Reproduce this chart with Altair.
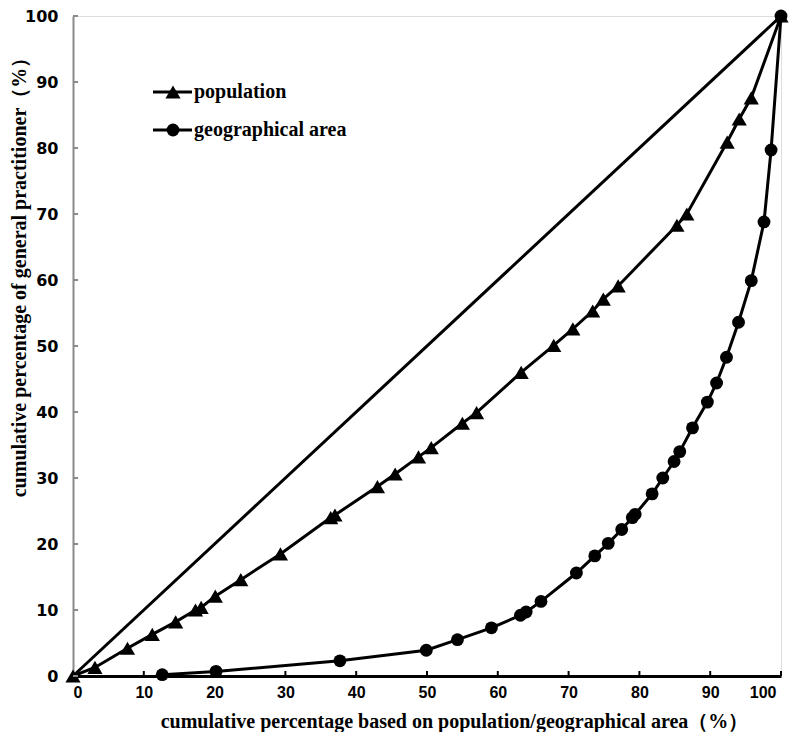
import altair as alt
import pandas as pd

# cumulative percentage of population (x) vs general practitioners (y)
pop_x = [0, 3.1, 7.7, 11.2, 14.5, 17.3, 18.1, 20.1, 23.7, 29.3, 36.4, 37.0, 43.0, 45.5,
         48.8, 50.6, 55.0, 57.0, 63.3, 67.9, 70.6, 73.4, 74.9, 77.0, 85.3, 86.7, 92.4,
         94.1, 95.8, 100]
pop_y = [0, 1.3, 4.2, 6.3, 8.2, 10.0, 10.4, 12.1, 14.6, 18.5, 24.0, 24.4, 28.7, 30.6,
         33.2, 34.6, 38.3, 39.9, 46.0, 50.1, 52.6, 55.3, 57.1, 59.1, 68.3, 70.0, 80.9,
         84.4, 87.6, 100]

# cumulative percentage of geographical area (x) vs general practitioners (y)
geo_x = [12.6, 20.2, 37.7, 49.9, 54.3, 59.1, 63.2, 64.0, 66.1, 71.1, 73.7, 75.6, 77.5,
         79.0, 79.4, 81.8, 83.3, 84.9, 85.7, 87.5, 89.6, 90.9, 92.3, 94.0, 95.8, 97.6,
         98.6, 100]
geo_y = [0.2, 0.7, 2.3, 3.9, 5.5, 7.3, 9.2, 9.7, 11.3, 15.6, 18.2, 20.1, 22.2, 24.0,
         24.5, 27.6, 30.0, 32.5, 34.0, 37.6, 41.5, 44.4, 48.3, 53.6, 59.9, 68.8, 79.7,
         100]

# line of equality
eq_x = [0, 100]
eq_y = [0, 100]

series_names = ["population", "geographical area"]
tick_values = [0, 10, 20, 30, 40, 50, 60, 70, 80, 90, 100]

W, H = 708, 660

df = pd.concat([
    pd.DataFrame({"x": pop_x, "y": pop_y, "series": series_names[0], "order": range(len(pop_x))}),
    pd.DataFrame({"x": geo_x, "y": geo_y, "series": series_names[1], "order": range(len(geo_x))}),
])
df_eq = pd.DataFrame({"x": eq_x, "y": eq_y})
df_ticks = pd.DataFrame({"v": tick_values})

xscale = alt.Scale(domain=[0, 100], nice=False, zero=False)
yscale = alt.Scale(domain=[0, 100], nice=False, zero=False)

title_font = "Liberation Serif"
SERIF_SIZE = 20
TRI_SIZE = 230
CIR_SIZE = 165

x_axis = alt.Axis(
    values=tick_values, ticks=False, grid=False,
    domainColor="black", domainWidth=3,
    labelFont="Liberation Sans", labelFontSize=16, labelFontWeight="bold", labelColor="black",
    labelPadding=8,
    labelOffset=alt.expr("datum.value == 100 ? -5 : 0"),
    title="cumulative percentage based on population/geographical area（%）",
    titleFont=title_font, titleFontSize=SERIF_SIZE, titleFontWeight="bold", titleColor="black",
    titleX=381, titleY=45, titleBaseline="middle", titleAnchor="middle",
)
y_axis = alt.Axis(
    values=tick_values, ticks=False, grid=False,
    domainColor="#8a8a8a", domainWidth=2,
    labelFont="DejaVu Sans", labelFontSize=16, labelFontWeight="bold", labelColor="black",
    labelPadding=15,
    title="cumulative percentage of general practitioner（%）",
    titleFont=title_font, titleFontSize=SERIF_SIZE, titleFontWeight="bold", titleColor="black",
    titleX=-54, titleY=256, titleBaseline="middle", titleAngle=-90,
)

eq_line = alt.Chart(df_eq).mark_line(color="black", strokeWidth=3).encode(
    x=alt.X("x:Q", scale=xscale, axis=x_axis),
    y=alt.Y("y:Q", scale=yscale, axis=y_axis),
)

lines = alt.Chart(df).mark_line(color="black", strokeWidth=3).encode(
    x=alt.X("x:Q", scale=xscale),
    y=alt.Y("y:Q", scale=yscale),
    detail="series:N",
    order="order:Q",
)

geo_pts = alt.Chart(df[df.series == series_names[1]]).mark_point(
    filled=True, color="black", opacity=1, shape="circle", size=CIR_SIZE
).encode(x=alt.X("x:Q", scale=xscale), y=alt.Y("y:Q", scale=yscale))

pop_pts = alt.Chart(df[df.series == series_names[0]]).mark_point(
    filled=True, color="black", opacity=1, shape="triangle-up", size=TRI_SIZE
).encode(x=alt.X("x:Q", scale=xscale), y=alt.Y("y:Q", scale=yscale))

# inward tick marks
x_ticks = alt.Chart(df_ticks).mark_rule(color="black", strokeWidth=2).encode(
    x=alt.X("v:Q", scale=xscale), y=alt.value(H), y2=alt.value(H - 5)
)
y_ticks = alt.Chart(df_ticks).mark_rule(color="#8a8a8a", strokeWidth=2).encode(
    y=alt.Y("v:Q", scale=yscale), x=alt.value(0), x2=alt.value(5)
)

# manual legend (inside plot, top-left)
df_leg = pd.DataFrame({"series": series_names})
leg_rows = []
for i, (name, shape, size) in enumerate(zip(series_names, ["triangle-up", "circle"], [TRI_SIZE, CIR_SIZE])):
    ypix = 76 + 38 * i
    d = df_leg[df_leg.series == name]
    leg_rows.append(alt.Chart(d).mark_rule(color="black", strokeWidth=3).encode(
        x=alt.value(80), x2=alt.value(119), y=alt.value(ypix)))
    leg_rows.append(alt.Chart(d).mark_point(
        filled=True, color="black", opacity=1, shape=shape, size=size
    ).encode(x=alt.value(100), y=alt.value(ypix)))
    leg_rows.append(alt.Chart(d).mark_text(
        align="left", baseline="middle", font=title_font, fontSize=SERIF_SIZE,
        fontWeight="bold", color="black"
    ).encode(x=alt.value(121), y=alt.value(ypix), text="series:N"))

chart = alt.layer(
    eq_line, lines, geo_pts, pop_pts, x_ticks, y_ticks, *leg_rows
).properties(
    width=W, height=H,
    autosize=alt.AutoSizeParams(type="none"),
    padding={"left": 65, "top": 8, "right": 8, "bottom": 56},
).configure_view(stroke=None).configure(background="white")

chart.save("out.html", embed_options={"renderer": "svg", "actions": False})
